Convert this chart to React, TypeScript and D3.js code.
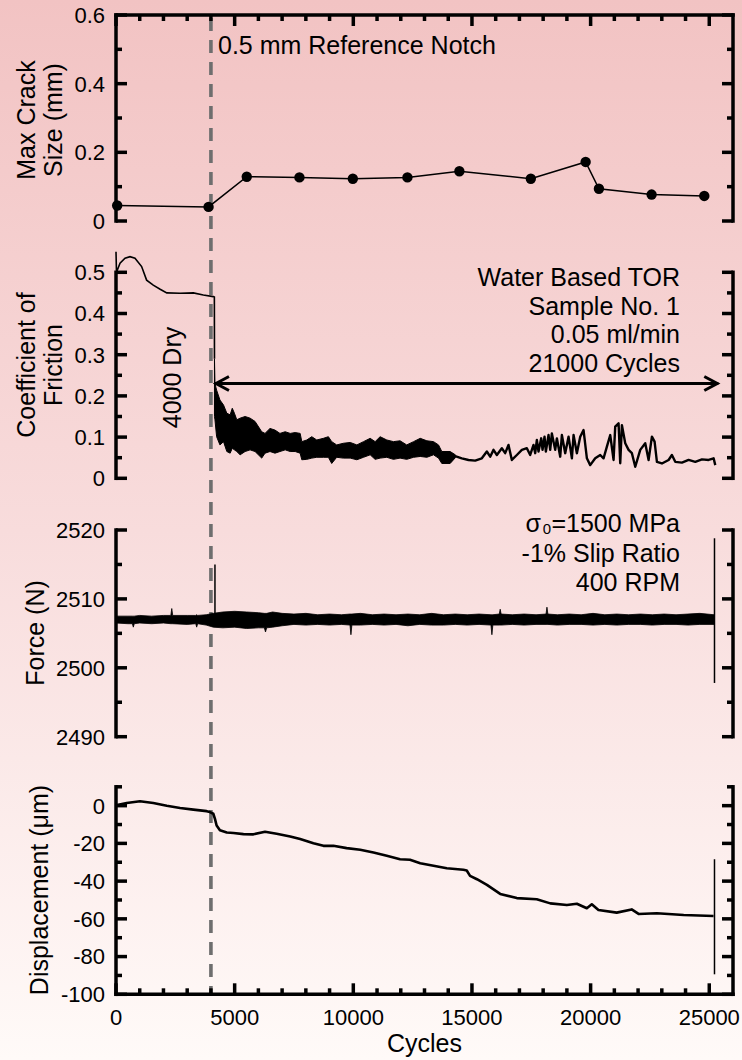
import React from 'react'
import * as d3 from 'd3'

const W = 742
const H = 1060
const FONT = '"Liberation Sans", Arial, Helvetica, sans-serif'

// ---- max crack size (mm) vs cycles
const crackCycles = [50, 3900, 5510, 7730, 9980, 12280, 14470, 17480, 19790, 20350, 22570, 24790]
const crackSize = [0.045, 0.041, 0.129, 0.127, 0.123, 0.127, 0.145, 0.123, 0.172, 0.094, 0.077, 0.073]

// ---- coefficient of friction, dry running-in (smooth trace)
const cofDryCycles = [0, 20, 170, 380, 590, 800, 1080, 1290, 1570, 1860, 2140, 2700, 3260, 3680, 4100, 4145, 4150]
const cofDryValues = [0.55, 0.5, 0.522, 0.534, 0.538, 0.534, 0.514, 0.481, 0.469, 0.459, 0.45, 0.449, 0.45, 0.445, 0.441, 0.44, 0.29]

// ---- coefficient of friction, lubricated: dense noisy band (low / high envelope)
const cofWetCycles = [4150, 4170, 4240, 4380, 4530, 4670, 4810, 4900, 4990, 5090, 5230, 5440, 5650, 5860, 6140, 6280, 6490, 6700, 6910, 7130, 7340, 7550, 7760, 7830, 8040, 8250, 8460, 8740, 8950, 9090, 9300, 9580, 9870, 10150, 10430, 10710, 10920, 11130, 11410, 11690, 11970, 12250, 12540, 12820, 13100, 13380, 13590, 13730, 14080, 14300]
const cofWetHigh = [0.29, 0.23, 0.214, 0.19, 0.178, 0.158, 0.154, 0.17, 0.158, 0.142, 0.146, 0.15, 0.146, 0.138, 0.113, 0.109, 0.121, 0.117, 0.109, 0.113, 0.109, 0.111, 0.109, 0.089, 0.093, 0.101, 0.093, 0.097, 0.101, 0.089, 0.081, 0.085, 0.087, 0.081, 0.089, 0.097, 0.089, 0.101, 0.093, 0.089, 0.091, 0.081, 0.089, 0.097, 0.091, 0.089, 0.081, 0.065, 0.065, 0.057]
const cofWetLow = [0.15, 0.142, 0.101, 0.081, 0.089, 0.065, 0.061, 0.073, 0.069, 0.065, 0.057, 0.065, 0.069, 0.065, 0.049, 0.061, 0.065, 0.061, 0.065, 0.069, 0.065, 0.065, 0.061, 0.045, 0.046, 0.049, 0.051, 0.051, 0.051, 0.036, 0.051, 0.049, 0.049, 0.045, 0.051, 0.057, 0.046, 0.049, 0.051, 0.046, 0.049, 0.046, 0.051, 0.053, 0.051, 0.057, 0.049, 0.036, 0.036, 0.05]

// ---- coefficient of friction, lubricated: later spiky trace
const cofLateCycles = [14292, 14573, 14854, 15135, 15416, 15627, 15768, 15908, 16049, 16259, 16400, 16540, 16681, 16892, 17103, 17313, 17454, 17594, 17665, 17735, 17805, 17918, 17974, 18058, 18114, 18227, 18297, 18367, 18508, 18578, 18719, 18789, 18929, 19070, 19211, 19281, 19421, 19562, 19702, 19843, 19983, 20194, 20405, 20545, 20686, 20827, 20967, 21037, 21178, 21248, 21319, 21459, 21600, 21740, 21881, 22091, 22302, 22443, 22583, 22696, 22794, 23005, 23286, 23426, 23567, 23848, 24129, 24410, 24691, 24972, 25183, 25253]
const cofLateValues = [0.054, 0.0485, 0.0445, 0.043, 0.0485, 0.065, 0.0525, 0.069, 0.0566, 0.073, 0.061, 0.081, 0.0445, 0.0566, 0.069, 0.073, 0.0566, 0.081, 0.061, 0.093, 0.065, 0.097, 0.069, 0.101, 0.065, 0.105, 0.069, 0.109, 0.069, 0.097, 0.0525, 0.105, 0.061, 0.101, 0.0485, 0.105, 0.061, 0.101, 0.117, 0.0485, 0.032, 0.0485, 0.0566, 0.0485, 0.077, 0.105, 0.0445, 0.1254, 0.1335, 0.0364, 0.129, 0.085, 0.069, 0.061, 0.028, 0.069, 0.085, 0.0445, 0.101, 0.089, 0.04, 0.036, 0.0445, 0.0566, 0.04, 0.038, 0.0445, 0.04, 0.046, 0.0445, 0.0485, 0.032]

// ---- normal force (N): noisy band envelope
const forceCycles = [0, 500, 690, 730, 770, 1000, 1500, 2000, 2310, 2350, 2390, 3000, 3360, 3400, 3440, 3800, 4100, 4500, 5000, 5500, 6000, 6250, 6300, 6350, 6600, 7000, 7500, 8000, 8500, 9000, 9500, 9860, 9900, 9940, 10300, 10800, 11300, 11800, 12300, 12800, 13300, 13800, 14300, 14800, 15300, 15800, 15840, 15880, 16150, 16190, 16230, 16700, 17200, 17700, 18120, 18160, 18200, 18600, 19100, 19600, 20100, 20600, 21100, 21600, 22100, 22600, 23100, 23600, 24100, 24600, 25200]
const forceLow = [2506.5, 2506.4, 2506.4, 2505.9, 2506.4, 2506.5, 2506.4, 2506.5, 2506.4, 2506.4, 2506.4, 2506.3, 2506.4, 2505.9, 2506.4, 2506.2, 2505.9, 2505.8, 2505.9, 2505.7, 2505.8, 2505.8, 2505.2, 2505.8, 2505.9, 2506.1, 2506.3, 2506.2, 2506.3, 2506.2, 2506.3, 2506.2, 2504.8, 2506.2, 2506.2, 2506.3, 2506.2, 2506.3, 2506.1, 2506.3, 2506.2, 2506.2, 2506.3, 2506.2, 2506.3, 2506.2, 2504.8, 2506.2, 2506.2, 2506.2, 2506.2, 2506.3, 2506.2, 2506.3, 2506.3, 2506.3, 2506.3, 2506.2, 2506.3, 2506.3, 2506.2, 2506.3, 2506.2, 2506.3, 2506.3, 2506.2, 2506.3, 2506.3, 2506.2, 2506.3, 2506.3]
const forceHigh = [2507.5, 2507.5, 2507.5, 2507.5, 2507.5, 2507.6, 2507.5, 2507.6, 2507.6, 2508.6, 2507.6, 2507.6, 2507.6, 2507.7, 2507.6, 2507.7, 2507.9, 2508.1, 2508.2, 2508.1, 2508.0, 2507.9, 2507.9, 2507.9, 2508.1, 2507.9, 2507.8, 2507.9, 2507.7, 2507.8, 2507.7, 2507.8, 2507.8, 2507.8, 2507.9, 2507.7, 2507.8, 2507.7, 2507.8, 2507.7, 2507.9, 2507.7, 2507.8, 2507.7, 2507.8, 2507.7, 2507.7, 2507.7, 2507.8, 2508.5, 2507.8, 2507.7, 2507.8, 2507.7, 2507.8, 2508.8, 2507.8, 2507.7, 2507.8, 2507.7, 2507.9, 2507.7, 2507.8, 2507.7, 2507.8, 2507.7, 2507.8, 2507.7, 2507.8, 2507.9, 2507.7]
const forceSpikeCycles = [4170, 25220]
const forceSpikeLow = [2507, 2497.8]
const forceSpikeHigh = [2515, 2518.8]

// ---- displacement (um)
const dispCycles = [0, 100, 450, 1010, 1570, 2140, 2700, 3260, 3540, 3820, 3960, 4100, 4170, 4240, 4380, 4670, 4950, 5370, 5790, 6280, 6770, 7340, 7760, 8320, 8740, 9160, 9720, 10290, 10850, 11410, 11970, 12390, 12820, 13380, 13940, 14640, 14780, 14920, 15210, 15630, 16190, 16890, 17730, 18300, 19000, 19420, 19840, 20050, 20330, 21100, 21730, 22020, 22790, 23920, 25180]
const dispValues = [0, 0.5, 1.4, 2.3, 1.4, 0, -1.2, -2.1, -2.5, -2.9, -3.4, -4.3, -7.0, -10.5, -13.0, -14.2, -14.5, -15.1, -15.2, -13.8, -14.9, -16.3, -17.7, -19.9, -21.3, -21.3, -22.5, -23.4, -24.8, -26.6, -28.4, -28.7, -30.5, -31.9, -33.2, -34.0, -34.4, -37.2, -39.0, -42.0, -46.8, -49.0, -49.6, -51.8, -52.7, -52.0, -54.4, -52.3, -55.3, -56.7, -55.0, -57.4, -57.0, -58.0, -58.5]
const dispEndCycle = 25220
const dispEndRange = [-28.4, -89.4]

// ---- annotations
const notchCycle = 4000
const arrowSpan = [4170, 25380]
const arrowLevel = 0.23
const xTickLabels = [0, 5000, 10000, 15000, 20000, 25000]

// ---- layout
const xLeft = 116
const xRight = 733
const x = d3.scaleLinear().domain([0, 26000]).range([xLeft, xRight])
const yCrack = d3.scaleLinear().domain([0, 0.6]).range([221, 15])
const yCof = d3.scaleLinear().domain([0, 0.5]).range([478.3, 272.3])
const yForce = d3.scaleLinear().domain([2490, 2520]).range([736.7, 530])
const yDisp = d3.scaleLinear().domain([-100, 10]).range([994.3, 786.8])

const SW = 3.5
const MAJ = 11
const MIN = 6

type Tick = { v: number; major: boolean; label?: string }

function YAxes({ scale, ticks }: { scale: d3.ScaleLinear<number, number>; ticks: Tick[] }) {
  const [d0, d1] = [d3.min(ticks, t => t.v)!, d3.max(ticks, t => t.v)!]
  return (
    <g>
      <line x1={xLeft} x2={xLeft} y1={scale(d0)} y2={scale(d1)} stroke="#000" strokeWidth={SW} strokeLinecap="square" />
      <line x1={xRight} x2={xRight} y1={scale(d0)} y2={scale(d1)} stroke="#000" strokeWidth={SW} strokeLinecap="square" />
      {ticks.map((t, i) => (
        <g key={i}>
          <line x1={xLeft} x2={xLeft + (t.major ? MAJ : MIN)} y1={scale(t.v)} y2={scale(t.v)} stroke="#000" strokeWidth={SW} />
          <line x1={xRight} x2={xRight - (t.major ? MAJ : MIN)} y1={scale(t.v)} y2={scale(t.v)} stroke="#000" strokeWidth={SW} />
          {t.label !== undefined && (
            <text x={105} y={scale(t.v)} dy="0.36em" textAnchor="end" fontSize={22} fontFamily={FONT}>{t.label}</text>
          )}
        </g>
      ))}
    </g>
  )
}

function AxisTitle({ lines, xs, cy }: { lines: string[]; xs: number[]; cy: number }) {
  return (
    <g>
      {lines.map((l, i) => (
        <text key={i} transform={`translate(${xs[i]},${cy}) rotate(-90)`} textAnchor="middle" fontSize={25} fontFamily={FONT}>{l}</text>
      ))}
    </g>
  )
}

export default function App() {
  const crackTicks: Tick[] = d3.range(0, 7).map(i => ({ v: i / 10, major: i % 2 === 0, label: i % 2 === 0 ? (i === 0 ? '0' : d3.format('.1f')(i / 10)) : undefined }))
  const cofTicks: Tick[] = d3.range(0, 11).map(i => ({ v: i * 0.05, major: i % 2 === 0, label: i % 2 === 0 ? (i === 0 ? '0' : d3.format('.1f')(i * 0.05)) : undefined }))
  const forceTicks: Tick[] = d3.range(0, 7).map(i => ({ v: 2490 + i * 5, major: i % 2 === 0, label: i % 2 === 0 ? String(2490 + i * 5) : undefined }))
  const dispTicks: Tick[] = d3.range(0, 12).map(i => {
    const v = -100 + i * 10
    return { v, major: v % 20 === 0, label: v % 20 === 0 ? String(v) : undefined }
  })
  const xTicks = d3.range(0, 26000, 1000)

  const crackLine = d3.line<number>().x((_, i) => x(crackCycles[i])).y(d => yCrack(d))
  const cofDryLine = d3.line<number>().x((_, i) => x(cofDryCycles[i])).y(d => yCof(d))
  const cofBand = d3.area<number>().x(c => x(c)).y0((_, i) => yCof(cofWetLow[i])).y1((_, i) => yCof(cofWetHigh[i]))
  const cofLateLine = d3.line<number>().x((_, i) => x(cofLateCycles[i])).y(d => yCof(d))
  const forceBand = d3.area<number>().x(c => x(c)).y0((_, i) => yForce(forceLow[i])).y1((_, i) => yForce(forceHigh[i]))
  const dispLine = d3.line<number>().x((_, i) => x(dispCycles[i])).y(d => yDisp(d))

  const ay = yCof(arrowLevel)
  const ax0 = x(arrowSpan[0])
  const ax1 = x(arrowSpan[1])

  return (
    <svg width={W} height={H} style={{ position: 'absolute', left: 0, top: 0, display: 'block' }}>
      <defs>
        <linearGradient id="bg" x1="0" y1="0" x2="0" y2="1">
          <stop offset="0" stopColor="#f2c3c3" />
          <stop offset="0.5" stopColor="#f8dcdc" />
          <stop offset="1" stopColor="#fffaf8" />
        </linearGradient>
      </defs>
      <rect x={0} y={0} width={W} height={H} fill="url(#bg)" />

      {/* notch reference dashed line */}
      <line x1={x(notchCycle)} x2={x(notchCycle)} y1={18} y2={994} stroke="#6e6e6e" strokeWidth={3.6} strokeDasharray="13 9" />

      {/* panel 1: crack size */}
      <line x1={xLeft} x2={xRight} y1={yCrack(0.6)} y2={yCrack(0.6)} stroke="#000" strokeWidth={SW} strokeLinecap="square" />
      {xTicks.map(t => (
        <line key={'tt' + t} x1={x(t)} x2={x(t)} y1={yCrack(0.6)} y2={yCrack(0.6) + (t % 5000 === 0 ? MAJ : MIN)} stroke="#000" strokeWidth={SW} />
      ))}
      <YAxes scale={yCrack} ticks={crackTicks} />
      <path d={crackLine(crackSize) || ''} fill="none" stroke="#000" strokeWidth={1.5} />
      {crackSize.map((s, i) => (
        <circle key={i} cx={x(crackCycles[i])} cy={yCrack(s)} r={5.2} fill="#000" />
      ))}
      <text x={218} y={53.5} fontSize={25} fontFamily={FONT}>0.5 mm Reference Notch</text>
      <AxisTitle lines={['Max Crack', 'Size (mm)']} xs={[34.5, 62]} cy={120} />

      {/* panel 2: coefficient of friction */}
      <YAxes scale={yCof} ticks={cofTicks} />
      <path d={cofDryLine(cofDryValues) || ''} fill="none" stroke="#000" strokeWidth={1.6} />
      <path d={cofBand(cofWetCycles) || ''} fill="#000" stroke="#000" strokeWidth={1} />
      <path d={cofLateLine(cofLateValues) || ''} fill="none" stroke="#000" strokeWidth={2.4} strokeLinejoin="round" />
      <line x1={ax0} x2={ax1} y1={ay} y2={ay} stroke="#000" strokeWidth={3} />
      <path d={`M${ax0 + 14},${ay - 7} L${ax0 + 1},${ay} L${ax0 + 14},${ay + 7}`} fill="none" stroke="#000" strokeWidth={3} />
      <path d={`M${ax1 - 14},${ay - 7} L${ax1 - 1},${ay} L${ax1 - 14},${ay + 7}`} fill="none" stroke="#000" strokeWidth={3} />
      <text transform="translate(181,377.5) rotate(-90)" textAnchor="middle" fontSize={25} fontFamily={FONT}>4000 Dry</text>
      {['Water Based TOR', 'Sample No. 1', '0.05 ml/min', '21000 Cycles'].map((t, i) => (
        <text key={t} x={680} y={286 + i * 28.6} textAnchor="end" fontSize={25} fontFamily={FONT}>{t}</text>
      ))}
      <AxisTitle lines={['Coefficient of', 'Friction']} xs={[34.5, 62]} cy={365} />

      {/* panel 3: force */}
      <YAxes scale={yForce} ticks={forceTicks} />
      <path d={forceBand(forceCycles) || ''} fill="#000" stroke="#000" strokeWidth={0.8} />
      {forceSpikeCycles.map((c, i) => (
        <line key={'fs' + i} x1={x(c)} x2={x(c)} y1={yForce(forceSpikeLow[i])} y2={yForce(forceSpikeHigh[i])} stroke="#000" strokeWidth={1.5} />
      ))}
      <text x={541} y={532} textAnchor="end" fontSize={25} fontFamily={FONT}>σ</text>
      <text x={551} y={534} textAnchor="end" fontSize={15} fontFamily={FONT}>0</text>
      <text x={680} y={532} textAnchor="end" fontSize={25} fontFamily={FONT}>=1500 MPa</text>
      <text x={680} y={561.5} textAnchor="end" fontSize={25} fontFamily={FONT}>-1% Slip Ratio</text>
      <text x={680} y={591} textAnchor="end" fontSize={25} fontFamily={FONT}>400 RPM</text>
      <AxisTitle lines={['Force (N)']} xs={[44]} cy={633} />

      {/* panel 4: displacement */}
      <YAxes scale={yDisp} ticks={dispTicks} />
      <line x1={xLeft} x2={xRight} y1={yDisp(-100)} y2={yDisp(-100)} stroke="#000" strokeWidth={SW} strokeLinecap="square" />
      {xTicks.map(t => (
        <line key={'bt' + t} x1={x(t)} x2={x(t)} y1={yDisp(-100)} y2={yDisp(-100) - (t % 5000 === 0 ? MAJ : MIN)} stroke="#000" strokeWidth={SW} />
      ))}
      <path d={dispLine(dispValues) || ''} fill="none" stroke="#000" strokeWidth={2.6} strokeLinejoin="round" />
      <line x1={x(dispEndCycle)} x2={x(dispEndCycle)} y1={yDisp(dispEndRange[0])} y2={yDisp(dispEndRange[1])} stroke="#000" strokeWidth={1.5} />
      <AxisTitle lines={['Displacement (μm)']} xs={[48]} cy={890} />

      {xTickLabels.map(t => (
        <text key={'xl' + t} x={x(t)} y={1025} textAnchor="middle" fontSize={22} fontFamily={FONT}>{t}</text>
      ))}
      <text x={(xLeft + xRight) / 2} y={1052} textAnchor="middle" fontSize={25} fontFamily={FONT}>Cycles</text>
    </svg>
  )
}
